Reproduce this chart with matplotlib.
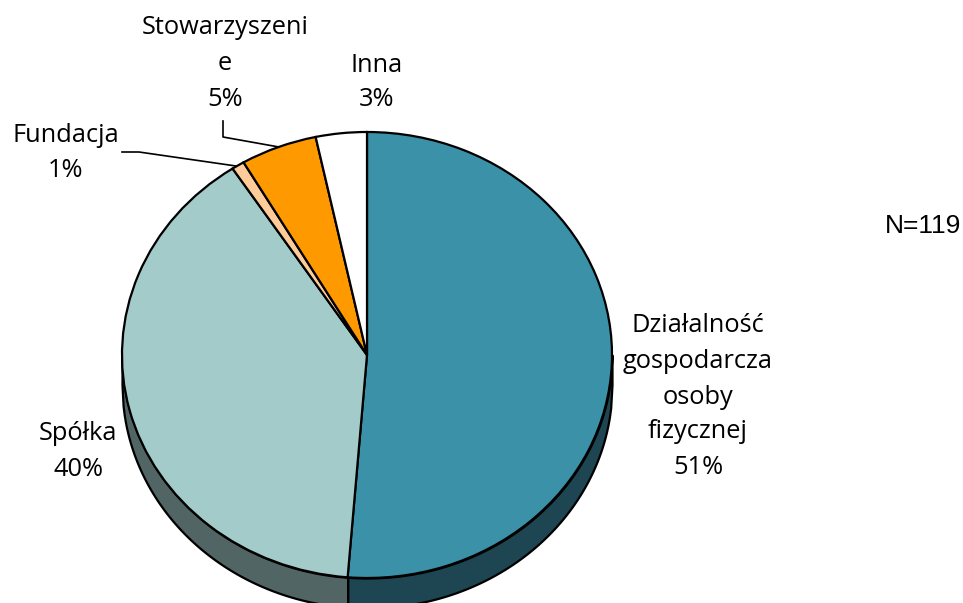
"""Pie chart of legal forms (N=119), drawn as a tilted pie with a dark side wall."""
import numpy as np
import matplotlib
matplotlib.use("Agg")
import matplotlib.pyplot as plt

W, H = 963, 603

# respondent counts out of N=119, they round to the printed percentages
values = [61, 47, 1, 6, 4]
colors = ["#3A91A8", "#A3CBCA", "#FFCC99", "#FF9900", "#FFFFFF"]
wall_colors = ["#1D4552", "#516564"]

# label text blocks: lines, x centre, y of each line (pixels from top)
label_lines = [
    (["Działalność", "gospodarcza", "osoby", "fizycznej", "51%"], 698, [326, 362, 397, 432, 468]),
    (["Spółka", "40%"], 78, [433, 469]),
    (["Fundacja", "1%"], 66, [135, 170]),
    (["Stowarzyszeni", "e", "5%"], 225, [28, 63, 99]),
    (["Inna", "3%"], 377, [65, 99]),
]
leaders = [
    ([122, 139, 236], [152, 152, 166]),
    ([223, 223, 279], [121, 137, 147]),
]

# pie geometry in pixels
cx, cy, rx, ry = 367, 355, 245, 223
depth = 30 / ry

plt.rcParams["font.family"] = ["Open Sans", "DejaVu Sans"]
fig = plt.figure(figsize=(W / 100, H / 100), dpi=100)
ax = fig.add_axes([(cx - rx) / W, (H - cy - ry) / H, 2 * rx / W, 2 * ry / H])

# side wall, split where the first slice ends
split = np.sin(np.radians(360 * values[0] / sum(values)))
for x0, x1, c in [(split, 1, wall_colors[0]), (-1, split, wall_colors[1])]:
    xs = np.linspace(x0, x1, 200)
    top = -np.sqrt(1 - xs ** 2)
    ax.fill_between(xs, top - depth, top, facecolor=c, edgecolor="black",
                    linewidth=1.6, clip_on=False)

ax.pie(values, colors=colors, startangle=90, counterclock=False, radius=1,
       wedgeprops={"edgecolor": "black", "linewidth": 1.6, "clip_on": False})
ax.set_aspect("auto")
ax.set_xlim(-1, 1)
ax.set_ylim(-1, 1)
ax.axis("off")

# leader lines, in pixel positions
for xs, ys in leaders:
    fig.add_artist(plt.Line2D([x / W for x in xs], [1 - y / H for y in ys],
                              color="black", linewidth=1.2))

for lines, x, ys in label_lines:
    for line, y in zip(lines, ys):
        fig.text(x / W, 1 - y / H, line, ha="center", va="center",
                 fontsize=18.3, color="black")

fig.text(923 / W, 1 - 226 / H, "N=119", ha="center", va="center",
         fontsize=19, family="Liberation Sans")

fig.savefig("out.png", dpi=100)
plt.close(fig)
